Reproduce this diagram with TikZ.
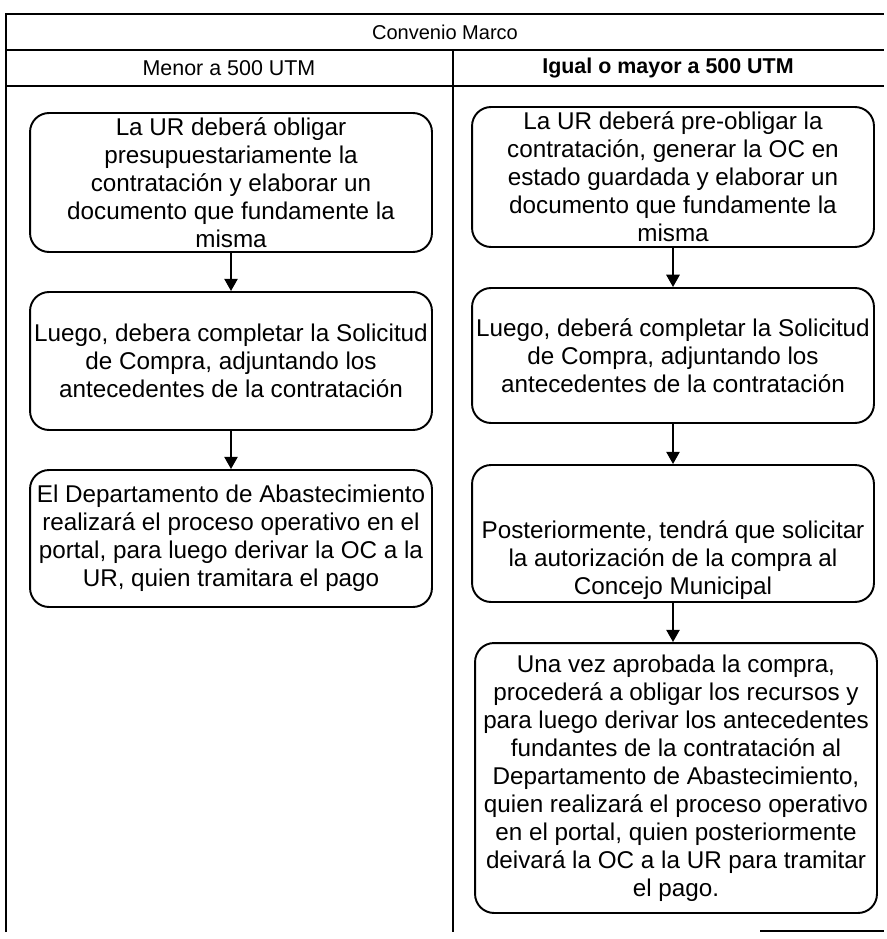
\documentclass[tikz,border=0pt]{standalone}
\usepackage{fontspec}
\setmainfont{Liberation Sans}
\usetikzlibrary{arrows.meta}

\begin{document}
\begin{tikzpicture}[x=0.02cm, y=-0.02cm,
		caja/.style={draw, line width=1.1pt, rounded corners=0.38cm, align=center, inner sep=0pt, minimum width=8.04cm, font=\fontsize{13.8}{15.9}\selectfont},
		flecha/.style={line width=1.3pt, -{Triangle[length=7pt, width=7.5pt]}},
		marco/.style={line width=1pt},
		titulo/.style={font=\fontsize{11.4}{13}\selectfont},
		cabecera/.style={font=\fontsize{12.2}{14}\selectfont}]
		\useasboundingbox ( 0, 0 ) rectangle ( 886, 939 );
		\draw [marco] ( 6, 932 ) -- ( 6, 14 ) -- ( 884, 14 );
		\draw [marco] ( 6, 50 ) -- ( 884, 50 );
		\draw [marco] ( 6, 86 ) -- ( 884, 86 );
		\draw [marco] ( 453, 50 ) -- ( 453, 932 );
		\draw [marco] ( 760, 931 ) -- ( 884, 931 );
		\node [titulo] (convenio) at ( 445, 32 ) {Convenio Marco};
		\node [cabecera] (menor) at ( 229, 68 ) {Menor a 500 UTM};
		\node [cabecera, font=\fontsize{12.2}{14}\selectfont\bfseries] (mayor) at ( 668, 68 ) {Igual o mayor a 500 UTM};
		\node [caja, minimum height=2.78cm] (menorA) at ( 231, 182.5 ) {La UR deberá obligar\\presupuestariamente la\\contratación y elaborar un\\documento que fundamente la\\misma};
		\node [caja, minimum height=2.76cm] (menorB) at ( 231, 361 ) {Luego, debera completar la Solicitud\\de Compra, adjuntando los\\antecedentes de la contratación};
		\node [caja, minimum height=2.74cm] (menorC) at ( 231, 538.5 ) {El Departamento de Abastecimiento\\realizará el proceso operativo en el\\portal, para luego derivar la OC a la\\UR, quien tramitara el pago};
		\draw [flecha] (menorA) -- (menorB);
		\draw [flecha] (menorB) -- (menorC);
		\node [caja, minimum height=2.8cm] (mayorA) at ( 673, 177 ) {La UR deberá pre-obligar la\\contratación, generar la OC en\\estado guardada y elaborar un\\documento que fundamente la\\misma};
		\node [caja, minimum height=2.7cm] (mayorB) at ( 673, 355.5 ) {Luego, deberá completar la Solicitud\\de Compra, adjuntando los\\antecedentes de la contratación};
		\node [caja, minimum height=2.74cm] (mayorC) at ( 673, 533.5 ) {\rule{0pt}{40pt}Posteriormente, tendrá que solicitar\\la autorización de la compra al\\Concejo Municipal};
		\node [caja, minimum height=5.4cm] (mayorD) at ( 676, 778 ) {Una vez aprobada la compra,\\procederá a obligar los recursos y\\para luego derivar los antecedentes\\fundantes de la contratación al\\Departamento de Abastecimiento,\\quien realizará el proceso operativo\\en el portal, quien posteriormente\\deivará la OC a la UR para tramitar\\el pago.};
		\draw [flecha] (mayorA) -- (mayorB);
		\draw [flecha] (mayorB) -- (mayorC);
		\draw [flecha] (mayorC.south) -- (mayorC.south |- mayorD.north);
	\end{tikzpicture}
\end{document}
